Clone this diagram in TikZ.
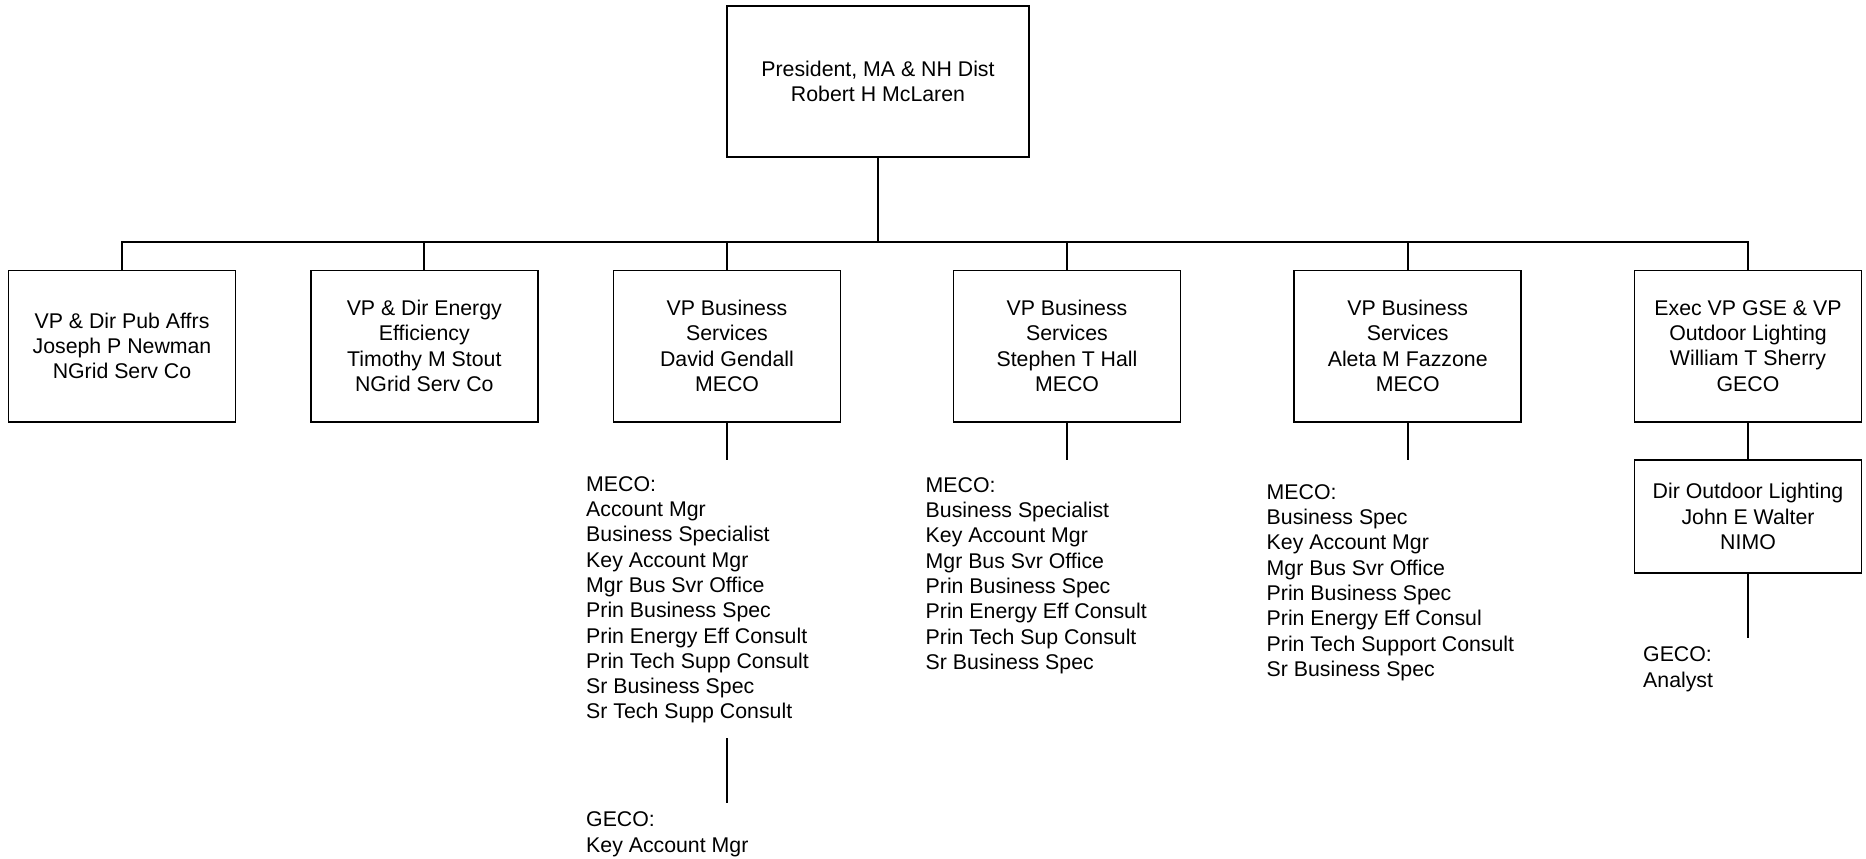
\documentclass[tikz,border=0pt]{standalone}
\usepackage{fontspec}
\setmainfont{Liberation Sans}
\newcommand\orgtxt{\fontsize{21.3}{25.3}\selectfont}
\begin{document}
\begin{tikzpicture}[x=1pt,y=-1pt,
  box/.style={draw, line width=1.8pt, rectangle, inner sep=0pt,
    minimum width=227pt, minimum height=151.2pt, align=center, font=\orgtxt},
  lst/.style={anchor=north west, inner sep=0pt, align=left, font=\orgtxt},
  link/.style={line width=1.8pt}]
\useasboundingbox (0,0) rectangle (1866,859);

\node[box, minimum width=302pt] (top) at (878,81.4) {President, MA \& NH Dist\\Robert H McLaren};

\node[box] (b1) at (122,346) {VP \& Dir Pub Affrs\\Joseph P Newman\\NGrid Serv Co};
\node[box] (b2) at (424.3,346) {VP \& Dir Energy\\Efficiency\\Timothy M Stout\\NGrid Serv Co};
\node[box] (b3) at (727,346) {VP Business\\Services\\David Gendall\\MECO};
\node[box] (b4) at (1067,346) {VP Business\\Services\\Stephen T Hall\\MECO};
\node[box] (b5) at (1407.7,346) {VP Business\\Services\\Aleta M Fazzone\\MECO};
\node[box] (b6) at (1748,346) {Exec VP GSE \& VP\\Outdoor Lighting\\William T Sherry\\GECO};
\node[box, minimum height=113pt] (b7) at (1748,516.5) {Dir Outdoor Lighting\\John E Walter\\NIMO};

\coordinate (bus) at (878,241.6);
\draw[link] (top.south) -- (bus);
\draw[link] (b1.north) |- (bus) -| (b6.north);
\foreach \b in {b2,b3,b4,b5} \draw[link] (\b.north) -- (\b.north |- bus);

\coordinate (e3) at (727,460);
\coordinate (e4) at (1067,460);
\coordinate (e5) at (1407.7,460);
\coordinate (e7) at (1748,638);
\coordinate (g3a) at (727,738);
\coordinate (g3b) at (727,803);
\draw[link] (b3.south) -- (e3);
\draw[link] (b4.south) -- (e4);
\draw[link] (b5.south) -- (e5);
\draw[link] (b6.south) -- (b7.north);
\draw[link] (b7.south) -- (e7);
\draw[link] (g3a) -- (g3b);

\node[lst] (l3) at (586,473.3) {\strut MECO:\\Account Mgr\\Business Specialist\\Key Account Mgr\\Mgr Bus Svr Office\\Prin Business Spec\\Prin Energy Eff Consult\\Prin Tech Supp Consult\\Sr Business Spec\\Sr Tech Supp Consult};
\node[lst] (g3) at (586,809) {\strut GECO:\\Key Account Mgr};
\node[lst] (l4) at (925.5,474.3) {\strut MECO:\\Business Specialist\\Key Account Mgr\\Mgr Bus Svr Office\\Prin Business Spec\\Prin Energy Eff Consult\\Prin Tech Sup Consult\\Sr Business Spec};
\node[lst] (l5) at (1266.5,481.3) {\strut MECO:\\Business Spec\\Key Account Mgr\\Mgr Bus Svr Office\\Prin Business Spec\\Prin Energy Eff Consul\\Prin Tech Support Consult\\Sr Business Spec};
\node[lst] (g7) at (1643,644) {\strut GECO:\\Analyst};
\end{tikzpicture}
\end{document}
